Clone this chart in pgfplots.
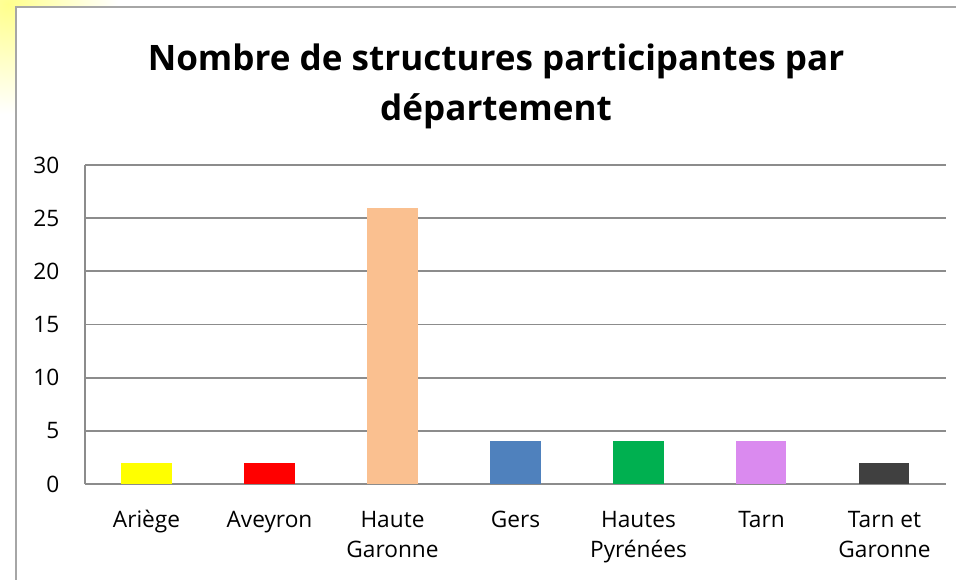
\documentclass[border=0pt]{standalone}
\usepackage{fontspec}
\setmainfont{Open Sans}
\usepackage{pgfplots}
\pgfplotsset{compat=1.18}
\definecolor{c1}{HTML}{FFFF00}
\definecolor{c2}{HTML}{FF0000}
\definecolor{c3}{HTML}{FAC090}
\definecolor{c4}{HTML}{4F81BD}
\definecolor{c5}{HTML}{00B050}
\definecolor{c6}{HTML}{DA8AEF}
\definecolor{c7}{HTML}{404040}
\definecolor{gridc}{HTML}{8C8C8C}
\definecolor{framec}{HTML}{A6A6A6}
\begin{document}
\begin{tikzpicture}[x=0.75pt,y=0.75pt]
\useasboundingbox (0,0) rectangle (956,579);
\shade[inner color=yellow!45, outer color=white] (8,575) circle (110);
\fill[white] (16,-10) rectangle (970,572);
\draw[framec, line width=1.2pt] (16,-10) -- (16,572) -- (970,572);
\node[font=\fontsize{26.3}{36}\selectfont\bfseries, anchor=base] at (496,508.5) {Nombre de structures participantes par};
\node[font=\fontsize{26.3}{36}\selectfont\bfseries, anchor=base] at (496,458.5) {département};
\begin{axis}[
  at={(63.75pt,71.25pt)}, anchor=south west,
  scale only axis, width=645.75pt, height=239.25pt,
  xmin=-0.5, xmax=6.5, ymin=0, ymax=30,
  ytick={0,5,...,30},
  xtick={0,...,6},
  xticklabels={{Ariège\strut}, {Aveyron\strut}, {Haute\strut\\Garonne}, {Gers\strut}, {Hautes\strut\\Pyrénées}, {Tarn\strut}, {Tarn et\strut\\Garonne}},
  xticklabel style={align=center, font=\fontsize{17}{22.5}\selectfont, anchor=north, inner sep=0pt, yshift=-16.5pt},
  yticklabel style={font=\fontsize{17}{20}\selectfont, anchor=east, inner sep=0pt, xshift=-19pt},
  /pgf/number format/assume math mode=true,
  major tick length=0pt,
  ymajorgrids, grid style={gridc, line width=1.4pt},
  axis line style={gridc, line width=1.4pt},
  axis x line=bottom, axis y line=left,
  x axis line style={-}, y axis line style={-},
  ybar, bar width=37.5pt, bar shift=0pt,
  every axis plot/.append style={draw=none},
  clip=false,
]
\addplot[fill=c1] coordinates {(0,2)};
\addplot[fill=c2] coordinates {(1,2)};
\addplot[fill=c3] coordinates {(2,26)};
\addplot[fill=c4] coordinates {(3,4)};
\addplot[fill=c5] coordinates {(4,4)};
\addplot[fill=c6] coordinates {(5,4)};
\addplot[fill=c7] coordinates {(6,2)};
\end{axis}
\end{tikzpicture}
\end{document}
